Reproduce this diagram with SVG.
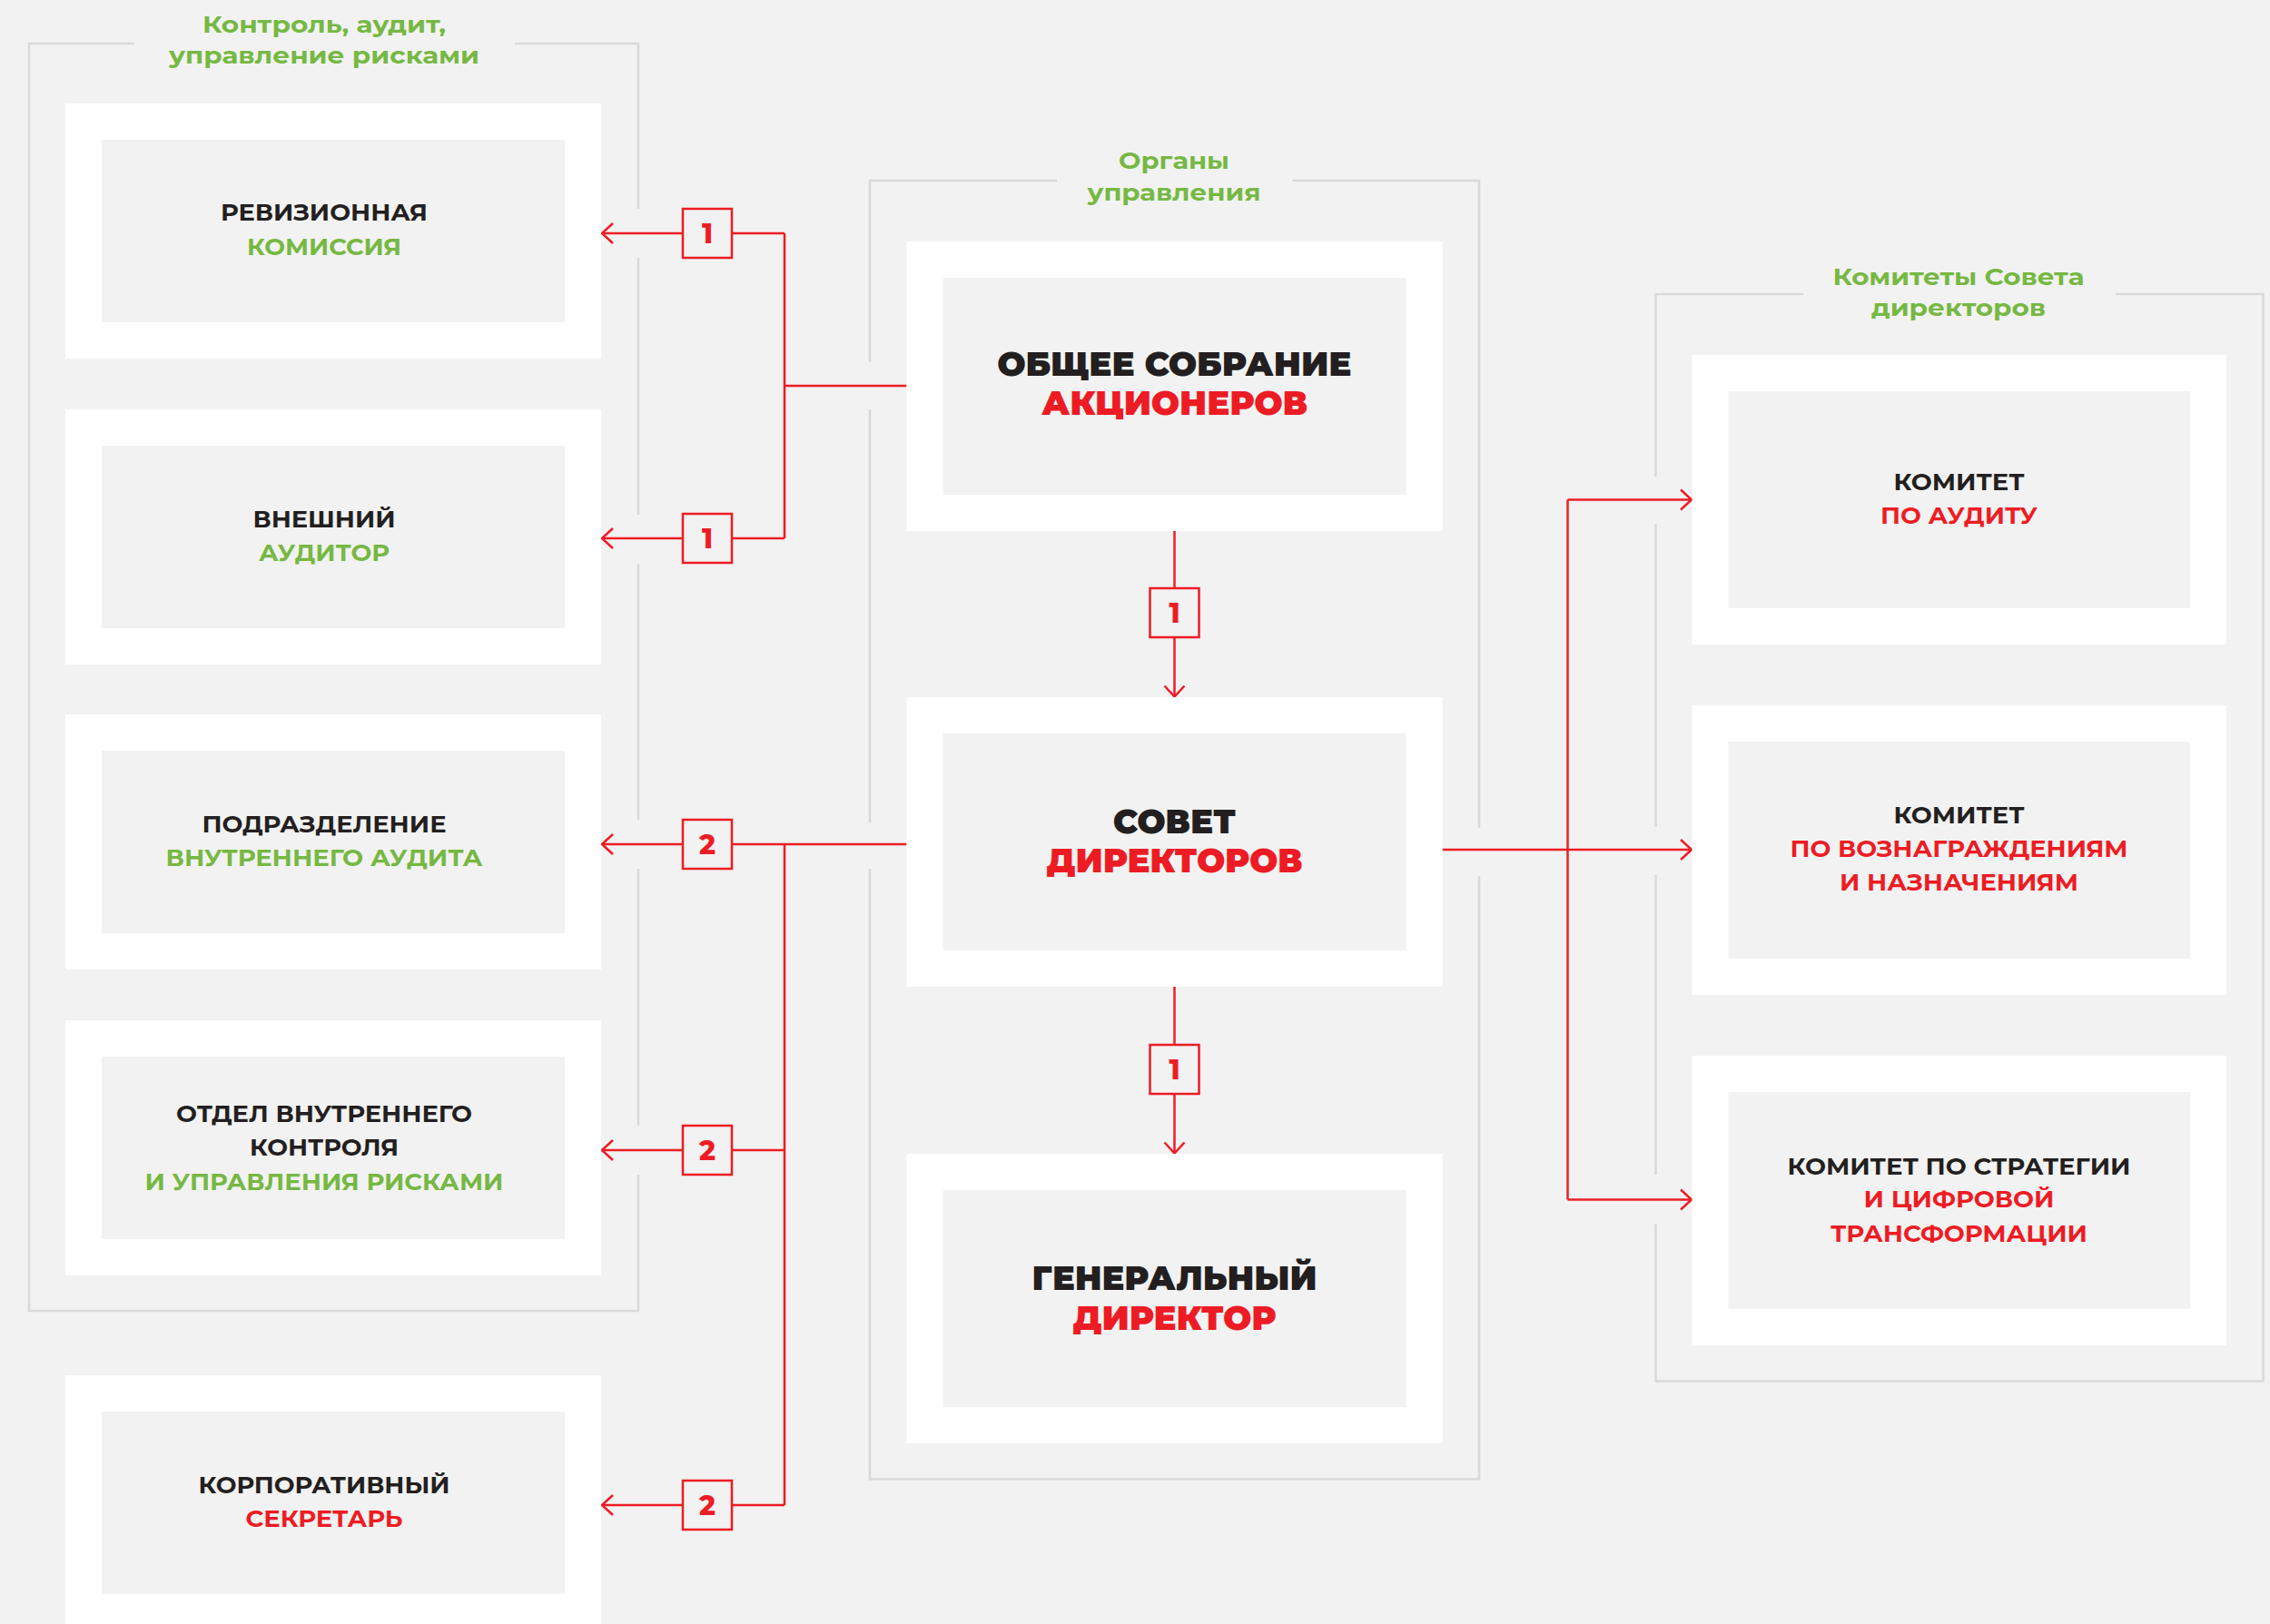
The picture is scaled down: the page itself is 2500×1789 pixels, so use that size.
<svg xmlns="http://www.w3.org/2000/svg" width="2500" height="1789" viewBox="0 0 2500 1789">
  <style>
    .bg { fill: #f2f2f2; }
    .frame { fill: #ffffff; }
    .core { fill: #f2f2f2; }
    .group-line { fill: none; stroke: #d9d9d9; stroke-width: 2.5; }
    .wire { fill: none; stroke: #ed1c24; stroke-width: 2.5; }
    .arrow { fill: none; stroke: #ed1c24; stroke-width: 2.5; marker-end: url(#chevron); }
    .tag { fill: #f2f2f2; stroke: #ed1c24; stroke-width: 2.5; }
    .tag-num { font-family: "Montserrat", "Open Sans", "Noto Sans", sans-serif; font-weight: 800; font-size: 30px; fill: #ed1c24; text-anchor: middle; }
    .title { font-family: "Montserrat", "Open Sans", "Noto Sans", sans-serif; font-weight: 700; font-size: 26px; fill: #76b843; text-anchor: middle; }
    .lbl { font-family: "Montserrat", "Open Sans", "Noto Sans", sans-serif; font-weight: 700; font-size: 26px; text-anchor: middle; }
    .big { font-family: "Montserrat", "Open Sans", "Noto Sans", sans-serif; font-weight: 900; font-size: 37px; text-anchor: middle; }
    .k { fill: #231f20; }
    .g { fill: #76b843; }
    .r { fill: #ed1c24; }
  </style>
  <defs>
    <marker id="chevron" viewBox="-15 -13 17 26" refX="0" refY="0" markerWidth="17" markerHeight="26" markerUnits="userSpaceOnUse" orient="auto">
      <path d="M-12,-11 L0,0 L-12,11" fill="none" stroke="#ed1c24" stroke-width="2.5"/>
    </marker>
  </defs>

  <rect class="bg" x="0" y="0" width="2500" height="1789"/>

  <!-- group outlines with their captions -->
  <g id="group-control">
    <path class="group-line" d="M148,48 H32 V1444 H703 V1294 M703,1240 V957 M703,903 V621 M703,567 V284 M703,230 V48 H567"/>
    <text class="title" x="357" y="36" textLength="268" lengthAdjust="spacingAndGlyphs">Контроль, аудит,</text>
    <text class="title" x="357" y="70" textLength="342" lengthAdjust="spacingAndGlyphs">управление рисками</text>
  </g>
  <g id="group-governance">
    <path class="group-line" d="M1164,199 H958 V399 M958,451 V906 M958,957 V1629.5 H1629 V965 M1629,912 V199 H1423.5"/>
    <text class="title" x="1293" y="186" textLength="122" lengthAdjust="spacingAndGlyphs">Органы</text>
    <text class="title" x="1293" y="221" textLength="191" lengthAdjust="spacingAndGlyphs">управления</text>
  </g>
  <g id="group-committees">
    <path class="group-line" d="M1986,324 H1823.5 V525 M1823.5,577 V911 M1823.5,964 V1294 M1823.5,1348 V1521.5 H2492.5 V324 H2330"/>
    <text class="title" x="2157" y="314" textLength="277" lengthAdjust="spacingAndGlyphs">Комитеты Совета</text>
    <text class="title" x="2157" y="348" textLength="192" lengthAdjust="spacingAndGlyphs">директоров</text>
  </g>

  <!-- connectors -->
  <g id="connectors">
    <!-- shareholders meeting to audit bodies -->
    <path class="wire" d="M998.5,425 H864 M864,257 V593 M864,257 H806 M864,593 H806"/>
    <path class="arrow" d="M752,257 H663"/>
    <path class="arrow" d="M752,593 H663"/>
    <!-- board to internal units -->
    <path class="wire" d="M998.5,930 H806 M864,930 V1658 M864,1267 H806 M864,1658 H806"/>
    <path class="arrow" d="M752,930 H663"/>
    <path class="arrow" d="M752,1267 H663"/>
    <path class="arrow" d="M752,1658 H663"/>
    <!-- vertical chain -->
    <path class="wire" d="M1293.5,585 V648"/>
    <path class="arrow" d="M1293.5,702 V767.5"/>
    <path class="wire" d="M1293.5,1087 V1151"/>
    <path class="arrow" d="M1293.5,1205 V1270.5"/>
    <!-- board to committees -->
    <path class="arrow" d="M1588.5,936 H1863"/>
    <path class="wire" d="M1726.5,550.5 V1321.5"/>
    <path class="arrow" d="M1726.5,550.5 H1863"/>
    <path class="arrow" d="M1726.5,1321.5 H1863"/>

    <g id="tags">
      <rect class="tag" x="752" y="230" width="54" height="54"/>
      <text class="tag-num" x="779" y="268">1</text>
      <rect class="tag" x="752" y="566" width="54" height="54"/>
      <text class="tag-num" x="779" y="604">1</text>
      <rect class="tag" x="752" y="903" width="54" height="54"/>
      <text class="tag-num" x="779" y="941">2</text>
      <rect class="tag" x="752" y="1240" width="54" height="54"/>
      <text class="tag-num" x="779" y="1278">2</text>
      <rect class="tag" x="752" y="1631" width="54" height="54"/>
      <text class="tag-num" x="779" y="1669">2</text>
      <rect class="tag" x="1266.5" y="648" width="54" height="54"/>
      <text class="tag-num" x="1293.5" y="686">1</text>
      <rect class="tag" x="1266.5" y="1151" width="54" height="54"/>
      <text class="tag-num" x="1293.5" y="1189">1</text>
    </g>
  </g>

  <!-- left column -->
  <g id="node-revision">
    <rect class="frame" x="72" y="114" width="590" height="281"/>
    <rect class="core" x="112" y="154" width="510" height="201"/>
    <text class="lbl k" x="357" y="243" textLength="228" lengthAdjust="spacingAndGlyphs">РЕВИЗИОННАЯ</text>
    <text class="lbl g" x="357" y="281" textLength="170" lengthAdjust="spacingAndGlyphs">КОМИССИЯ</text>
  </g>
  <g id="node-external-auditor">
    <rect class="frame" x="72" y="451" width="590" height="281"/>
    <rect class="core" x="112" y="491" width="510" height="201"/>
    <text class="lbl k" x="357" y="581" textLength="157" lengthAdjust="spacingAndGlyphs">ВНЕШНИЙ</text>
    <text class="lbl g" x="357" y="618" textLength="144" lengthAdjust="spacingAndGlyphs">АУДИТОР</text>
  </g>
  <g id="node-internal-audit">
    <rect class="frame" x="72" y="787" width="590" height="281"/>
    <rect class="core" x="112" y="827" width="510" height="201"/>
    <text class="lbl k" x="357" y="917" textLength="269" lengthAdjust="spacingAndGlyphs">ПОДРАЗДЕЛЕНИЕ</text>
    <text class="lbl g" x="357" y="954" textLength="349" lengthAdjust="spacingAndGlyphs">ВНУТРЕННЕГО АУДИТА</text>
  </g>
  <g id="node-internal-control">
    <rect class="frame" x="72" y="1124" width="590" height="281"/>
    <rect class="core" x="112" y="1164" width="510" height="201"/>
    <text class="lbl k" x="357" y="1235.5" textLength="326" lengthAdjust="spacingAndGlyphs">ОТДЕЛ ВНУТРЕННЕГО</text>
    <text class="lbl k" x="357" y="1272.5" textLength="164" lengthAdjust="spacingAndGlyphs">КОНТРОЛЯ</text>
    <text class="lbl g" x="357" y="1310.5" textLength="395" lengthAdjust="spacingAndGlyphs">И УПРАВЛЕНИЯ РИСКАМИ</text>
  </g>
  <g id="node-secretary">
    <rect class="frame" x="72" y="1515" width="590" height="281"/>
    <rect class="core" x="112" y="1555" width="510" height="201"/>
    <text class="lbl k" x="357" y="1645" textLength="277" lengthAdjust="spacingAndGlyphs">КОРПОРАТИВНЫЙ</text>
    <text class="lbl r" x="357" y="1682" textLength="173" lengthAdjust="spacingAndGlyphs">СЕКРЕТАРЬ</text>
  </g>

  <!-- centre column -->
  <g id="node-shareholders">
    <rect class="frame" x="998.5" y="266" width="590" height="319"/>
    <rect class="core" x="1038.5" y="306" width="510" height="239"/>
    <text class="big k" x="1293.5" y="414" textLength="390" lengthAdjust="spacingAndGlyphs">ОБЩЕЕ СОБРАНИЕ</text>
    <text class="big r" x="1293.5" y="457" textLength="293" lengthAdjust="spacingAndGlyphs">АКЦИОНЕРОВ</text>
  </g>
  <g id="node-board">
    <rect class="frame" x="998.5" y="768" width="590" height="319"/>
    <rect class="core" x="1038.5" y="808" width="510" height="239"/>
    <text class="big k" x="1293.5" y="917.5" textLength="135" lengthAdjust="spacingAndGlyphs">СОВЕТ</text>
    <text class="big r" x="1293.5" y="961" textLength="282" lengthAdjust="spacingAndGlyphs">ДИРЕКТОРОВ</text>
  </g>
  <g id="node-ceo">
    <rect class="frame" x="998.5" y="1271" width="590" height="319"/>
    <rect class="core" x="1038.5" y="1311" width="510" height="239"/>
    <text class="big k" x="1293.5" y="1420.5" textLength="314" lengthAdjust="spacingAndGlyphs">ГЕНЕРАЛЬНЫЙ</text>
    <text class="big r" x="1293.5" y="1464.5" textLength="224" lengthAdjust="spacingAndGlyphs">ДИРЕКТОР</text>
  </g>

  <!-- right column -->
  <g id="node-audit-committee">
    <rect class="frame" x="1863.5" y="391" width="588.5" height="319"/>
    <rect class="core" x="1903.5" y="431" width="508.5" height="239"/>
    <text class="lbl k" x="2157.5" y="540" textLength="144" lengthAdjust="spacingAndGlyphs">КОМИТЕТ</text>
    <text class="lbl r" x="2157.5" y="577" textLength="173" lengthAdjust="spacingAndGlyphs">ПО АУДИТУ</text>
  </g>
  <g id="node-nomination-committee">
    <rect class="frame" x="1863.5" y="777" width="588.5" height="319"/>
    <rect class="core" x="1903.5" y="817" width="508.5" height="239"/>
    <text class="lbl k" x="2157.5" y="907" textLength="144" lengthAdjust="spacingAndGlyphs">КОМИТЕТ</text>
    <text class="lbl r" x="2157.5" y="944" textLength="372" lengthAdjust="spacingAndGlyphs">ПО ВОЗНАГРАЖДЕНИЯМ</text>
    <text class="lbl r" x="2157.5" y="981" textLength="263" lengthAdjust="spacingAndGlyphs">И НАЗНАЧЕНИЯМ</text>
  </g>
  <g id="node-strategy-committee">
    <rect class="frame" x="1863.5" y="1163" width="588.5" height="319"/>
    <rect class="core" x="1903.5" y="1203" width="508.5" height="239"/>
    <text class="lbl k" x="2157.5" y="1293.5" textLength="378" lengthAdjust="spacingAndGlyphs">КОМИТЕТ ПО СТРАТЕГИИ</text>
    <text class="lbl r" x="2157.5" y="1330" textLength="210" lengthAdjust="spacingAndGlyphs">И ЦИФРОВОЙ</text>
    <text class="lbl r" x="2157.5" y="1367.5" textLength="283" lengthAdjust="spacingAndGlyphs">ТРАНСФОРМАЦИИ</text>
  </g>
</svg>
